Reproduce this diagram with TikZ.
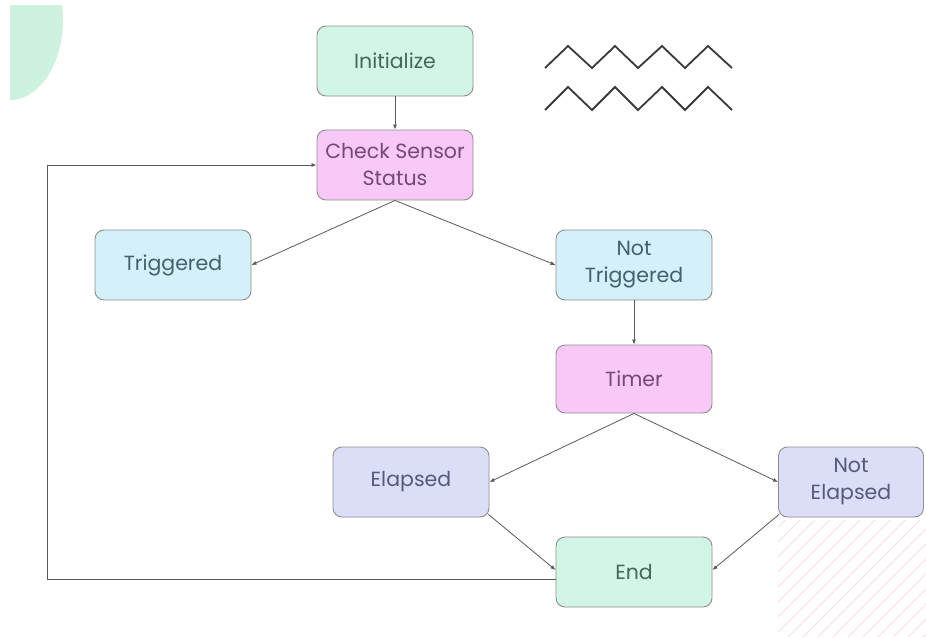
\documentclass[tikz,border=0pt]{standalone}
\usepackage{fontspec}
\setmainfont{Poppins}
\usetikzlibrary{arrows.meta}

\definecolor{grnfill}{HTML}{D2F6E6}
\definecolor{grntext}{HTML}{456658}
\definecolor{pinkfill}{HTML}{F8C8F6}
\definecolor{pinktext}{HTML}{724A74}
\definecolor{bluefill}{HTML}{D4F0F8}
\definecolor{bluetext}{HTML}{45606A}
\definecolor{lavfill}{HTML}{DCDEF8}
\definecolor{lavtext}{HTML}{555A76}
\definecolor{boxline}{HTML}{8E8E8E}
\definecolor{linkcol}{HTML}{5A5A5A}
\definecolor{decogreen}{HTML}{CDF3E0}
\definecolor{hatchpink}{HTML}{FCDDE2}
\definecolor{zigcol}{HTML}{3A3A3A}

\begin{document}
\begin{tikzpicture}[x=1pt,y=-1pt,
  box/.style={draw=boxline, line width=0.9pt, rounded corners=9pt,
    minimum width=156pt, minimum height=70pt, align=center,
    inner sep=2pt, font=\fontsize{20.5}{27}\selectfont},
  greenbox/.style={box, fill=grnfill, text=grntext},
  pinkbox/.style={box, fill=pinkfill, text=pinktext},
  bluebox/.style={box, fill=bluefill, text=bluetext},
  lavbox/.style={box, fill=lavfill, text=lavtext},
  link/.style={draw=linkcol, line width=0.8pt, -{Latex[length=5pt,width=4pt]}},
  zig/.style={draw=zigcol, line width=1.8pt, line join=miter}]

\useasboundingbox (0,0) rectangle (926,637);
\fill[white] (0,0) rectangle (926,637);

% soft green quarter shape, top left
\begin{scope}
  \clip (10,5) rectangle (130,130);
  \fill[decogreen] (10,20) ellipse [x radius=53, y radius=80];
\end{scope}

% pink hatching, bottom right
\begin{scope}
  \clip (778,520) rectangle (926,637);
  \foreach \i in {0,...,20}
    \draw[hatchpink, line width=0.8pt] (638+\i*15,637) -- ++(140,-140);
\end{scope}

% zigzag lines
\draw[zig] (545,68) -- (568,46) -- (592,68) -- (615,46) -- (638,68)
  -- (662,46) -- (685,68) -- (708,46) -- (732,68);
\draw[zig] (545,110) -- (568,87) -- (592,110) -- (615,87) -- (638,110)
  -- (662,87) -- (685,110) -- (708,87) -- (732,110);

% flowchart nodes
\node[greenbox] (init)  at (395,61)  {Initialize};
\node[pinkbox]  (check) at (395,165) {Check Sensor\\Status};
\node[bluebox]  (trig)  at (173,265) {Triggered};
\node[bluebox]  (ntrig) at (634,265) {Not\\Triggered};
\node[pinkbox, minimum height=68pt] (timer) at (634,379) {Timer};
\node[lavbox]   (elap)  at (411,482) {Elapsed};
\node[lavbox, minimum width=145pt] (nelap) at (851,482) {Not\\Elapsed};
\node[greenbox] (fin)   at (634,572) {End};

% connectors
\draw[link] (init) -- (check);
\draw[link] (check.south) -- (trig.east);
\draw[link] (check.south) -- (ntrig.west);
\draw[link] (ntrig) -- (timer);
\draw[link] (timer.south) -- (elap.east);
\draw[link] (timer.south) -- (nelap.west);
\draw[link] ([xshift=-1pt,yshift=3pt]elap.south east) -- ([yshift=2pt]fin.west);
\draw[link] ([xshift=1pt,yshift=3pt]nelap.south west) -- ([yshift=2pt]fin.east);
\draw[link] ([yshift=-7pt]fin.west) -- ++(-508,0) |- (check.west);
\end{tikzpicture}
\end{document}
